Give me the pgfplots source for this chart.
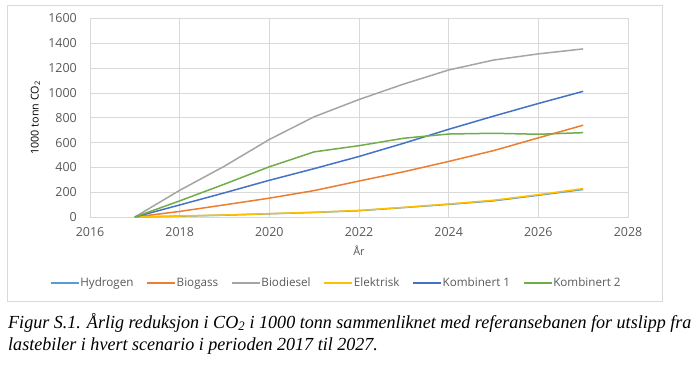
\documentclass[border=0pt]{standalone}
\usepackage{pgfplots}
\pgfplotsset{compat=1.18}
\usepackage{fontspec}
\setmainfont{Open Sans}
\newfontfamily\capfont[FakeStretch=0.98]{Liberation Serif}
\definecolor{cHyd}{HTML}{5B9BD5}
\definecolor{cBgs}{HTML}{ED7D31}
\definecolor{cBds}{HTML}{A5A5A5}
\definecolor{cEl}{HTML}{FFC000}
\definecolor{cK1}{HTML}{4472C4}
\definecolor{cK2}{HTML}{70AD47}
\definecolor{tgray}{HTML}{595959}
\definecolor{ggray}{HTML}{D9D9D9}
\begin{document}
\begin{tikzpicture}[x=1bp,y=-1bp]
\path (0,0) rectangle (700,365);
\draw[ggray, line width=0.8bp] (7,5) rectangle (662,301);
\begin{axis}[
  at={(90bp,-217bp)}, anchor=south west,
  scale only axis, width=538bp, height=198.5bp,
  xmin=2016, xmax=2028, ymin=0, ymax=1600,
  xtick={2016,2018,...,2028}, ytick={0,200,...,1600},
  grid=major, major grid style={ggray, line width=0.7bp},
  axis line style={ggray, line width=0.7bp},
  major tick length=0pt,
  tick label style={font=\fontsize{12.5}{14}\selectfont, text=tgray},
  /pgf/number format/assume math mode=true,
  /pgf/number format/1000 sep={},
  yticklabel style={inner sep=0pt, xshift=-13bp},
  xticklabel style={inner sep=0pt, yshift=-10bp},
  xlabel={År}, ylabel={1000 tonn CO\textsubscript{2}},
  xlabel style={at={(axis description cs:0.5,-0.171)}, anchor=center, font=\fontsize{11}{13}\selectfont, text=tgray},
  ylabel style={at={(axis description cs:-0.1013,0.5)}, anchor=center, rotate=0, font=\fontsize{10.8}{12}\selectfont, text=black},
  legend columns=6,
  legend style={at={(axis description cs:0.457,-0.332)}, anchor=center, draw=none, fill=none,
    font=\fontsize{11.7}{13}\selectfont, text=tgray, inner sep=0pt,
    nodes={inner sep=1bp},
    /tikz/every even column/.append style={column sep=12bp}},
  legend cell align=left,
  legend image code/.code={\draw[#1, line width=1.2bp] (0bp,0bp) -- (28bp,0bp);},
  every axis plot/.append style={line width=1.5bp, line join=round},
]
\addplot[cHyd] coordinates {(2017,0)(2018,7)(2019,15)(2020,26)(2021,37)(2022,51)(2023,76)(2024,102)(2025,130)(2026,175)(2027,222)};
\addlegendentry{Hydrogen}
\addplot[cBgs] coordinates {(2017,0)(2018,45)(2019,98)(2020,152)(2021,213)(2022,290)(2023,365)(2024,448)(2025,535)(2026,638)(2027,740)};
\addlegendentry{Biogass}
\addplot[cBds] coordinates {(2017,0)(2018,215)(2019,410)(2020,625)(2021,808)(2022,947)(2023,1072)(2024,1185)(2025,1265)(2026,1315)(2027,1355)};
\addlegendentry{Biodiesel}
\addplot[cEl] coordinates {(2017,0)(2018,8)(2019,16)(2020,27)(2021,38)(2022,53)(2023,78)(2024,105)(2025,135)(2026,180)(2027,229)};
\addlegendentry{Elektrisk}
\addplot[cK1] coordinates {(2017,0)(2018,97)(2019,195)(2020,296)(2021,390)(2022,488)(2023,595)(2024,707)(2025,813)(2026,915)(2027,1013)};
\addlegendentry{Kombinert 1}
\addplot[cK2] coordinates {(2017,0)(2018,130)(2019,265)(2020,405)(2021,525)(2022,575)(2023,635)(2024,669)(2025,675)(2026,667)(2027,680)};
\addlegendentry{Kombinert 2}
\end{axis}
\node[anchor=base west, inner sep=0pt, font=\capfont\itshape\fontsize{18.5}{22}\selectfont] at (8,328) {Figur S.1. Årlig reduksjon i CO\textsubscript{2} i 1000 tonn sammenliknet med referansebanen for utslipp fra};
\node[anchor=base west, inner sep=0pt, font=\capfont\itshape\fontsize{18.5}{22}\selectfont] at (8,350) {lastebiler i hvert scenario i perioden 2017 til 2027.};
\end{tikzpicture}
\end{document}
